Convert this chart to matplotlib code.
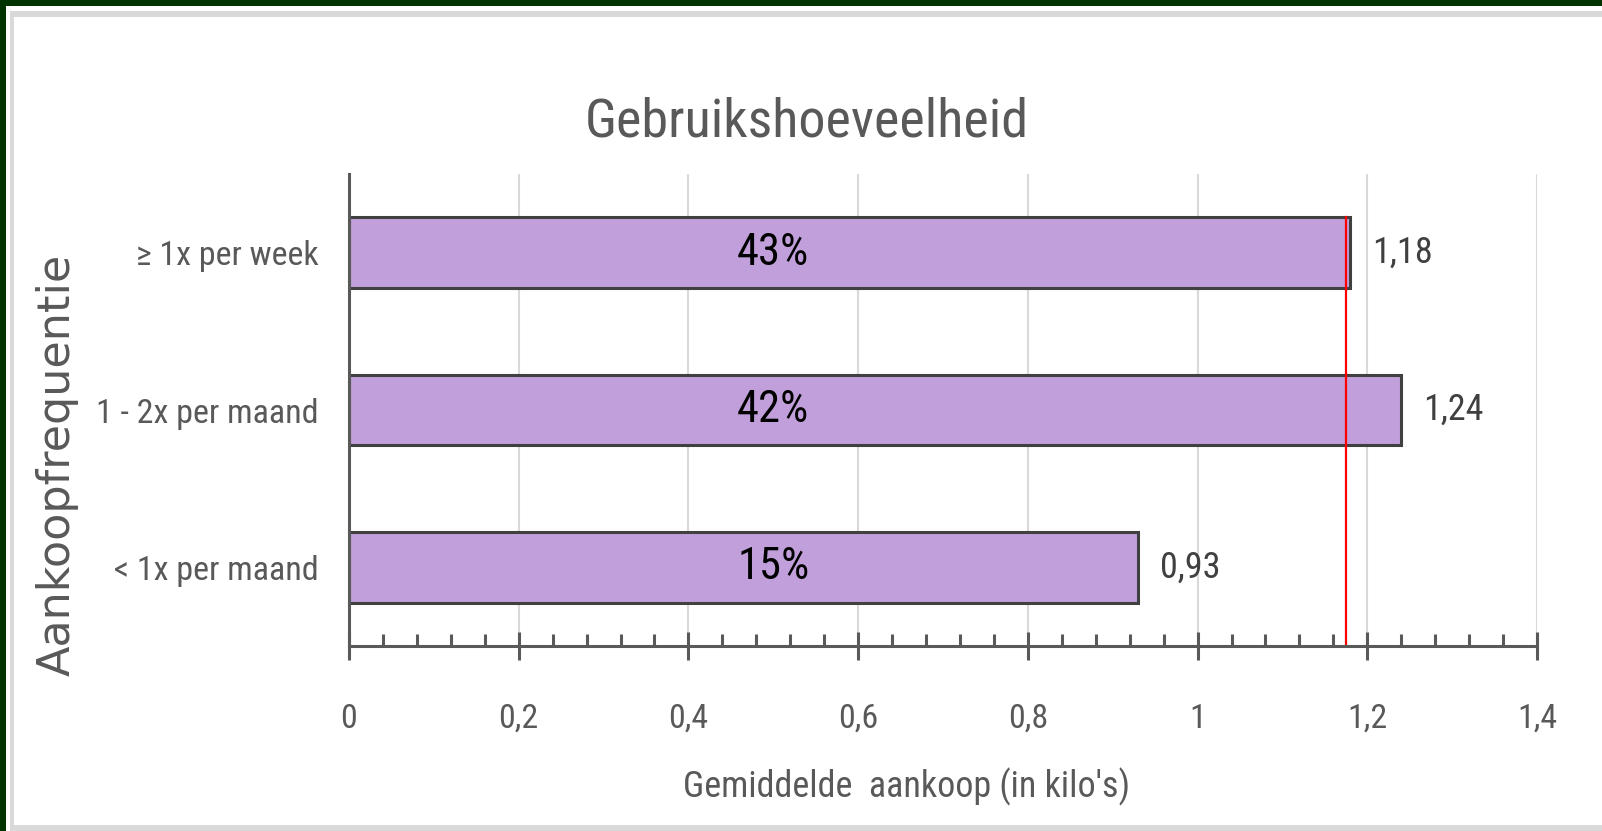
import matplotlib
matplotlib.use('Agg')
import matplotlib.pyplot as plt
from matplotlib import font_manager as fm
from matplotlib.patches import Rectangle
from matplotlib.ticker import MultipleLocator

# data
categories = ['≥ 1x per week', '1 - 2x per maand', '< 1x per maand']
values = [1.18, 1.24, 0.93]
value_labels = ['1,18', '1,24', '0,93']
shares = ['43%', '42%', '15%']
average = 1.175
xticks = [0, 0.2, 0.4, 0.6, 0.8, 1.0, 1.2, 1.4]
xtick_labels = ['0', '0,2', '0,4', '0,6', '0,8', '1', '1,2', '1,4']

# the original uses a narrow Calibri-like face; look for a condensed one
narrow = None
fonts = fm.fontManager.ttflist
for want in ['Liberation Sans Narrow', 'Roboto Condensed', 'Open Sans Condensed']:
    hits = [f for f in fonts if f.name == want and f.weight in (400, 'normal', 'regular')
            and f.style == 'normal']
    if hits:
        narrow = fm.FontProperties(fname=hits[0].fname)
        break
if narrow is None:
    hits = [f for f in fonts if ('Condensed' in f.name or 'Narrow' in f.name
                                 or f.stretch in ('condensed', 'semi-condensed'))
            and f.style == 'normal' and 'Bold' not in f.fname]
    if hits:
        narrow = fm.FontProperties(fname=hits[0].fname)
if narrow is None:
    narrow = fm.FontProperties(family='DejaVu Sans', stretch='condensed')


def nf(size):
    p = narrow.copy()
    p.set_size(size)
    return p


W, H = 1602, 831
fig = plt.figure(figsize=(W / 100, H / 100), dpi=100)
fig.patch.set_facecolor('white')


def px_rect(x, y, w, h, color):
    # rectangle given in pixel coords measured from the top-left corner
    fig.add_artist(Rectangle((x / W, 1 - (y + h) / H), w / W, h / H,
                             transform=fig.transFigure, color=color, lw=0))


# frame round the picture
px_rect(0, 0, 6, H, '#003300')
px_rect(0, 0, W, 6, '#003300')
px_rect(10, 11, 3.5, H - 11, '#d9d9d9')
px_rect(10, 11, W, 6, '#d9d9d9')
px_rect(10, 825, W, 6, '#d9d9d9')

ax = fig.add_axes([349 / W, 1 - 646 / H, 1188 / W, 472 / H])
ax.set_facecolor('none')

ypos = list(range(len(categories)))
bar_h = 0.45
ax.barh(ypos, values, height=bar_h, color='#c09fda', edgecolor='#404040',
        linewidth=2.2, zorder=3)

ax.set_xlim(0, 1.4)
ax.set_ylim(len(categories) - 0.5, -0.5)

# average line, from top of the first bar down to the axis
ax.plot([average, average], [-bar_h / 2, len(categories) - 0.5],
        color='#ff0000', lw=1.6, zorder=4, clip_on=False)

for y, v, vl, s in zip(ypos, values, value_labels, shares):
    ax.text(v + 0.026, y, vl, va='center', ha='left', fontproperties=nf(26),
            color='#404040', zorder=5)
    ax.text(0.5, y, s, va='center', ha='center', fontproperties=nf(32),
            color='black', zorder=5)

ax.set_xticks(xticks)
ax.set_xticklabels(xtick_labels, fontproperties=nf(24.5))
ax.xaxis.set_minor_locator(MultipleLocator(0.04))
ax.tick_params(axis='x', which='major', direction='inout', length=20,
               width=2.2, color='#595959', labelcolor='#595959', pad=31)
ax.tick_params(axis='x', which='minor', direction='in', length=8.5,
               width=2.2, color='#595959')
ax.set_yticks(ypos)
ax.set_yticklabels(categories, fontproperties=nf(24.5))
ax.tick_params(axis='y', length=0, labelcolor='#595959', pad=22)

ax.grid(axis='x', which='major', color='#d9d9d9', lw=1.5, zorder=0)
ax.set_axisbelow(True)

for side in ['top', 'right']:
    ax.spines[side].set_visible(False)
for side in ['left', 'bottom']:
    ax.spines[side].set_color('#595959')
    ax.spines[side].set_linewidth(2.2)
    ax.spines[side].set_zorder(6)

fig.text(807 / W, 1 - 122 / H, 'Gebruikshoeveelheid', ha='center',
         va='center', fontproperties=nf(39), color='#595959')
fig.text(907 / W, 1 - 787 / H, "Gemiddelde  aankoop (in kilo's)",
         ha='center', va='center', fontproperties=nf(26), color='#595959')
fig.text(57 / W, 1 - 465 / H, 'Aankoopfrequentie', rotation=90,
         ha='center', va='center', fontsize=32, color='#595959',
         family='DejaVu Sans')

fig.savefig('out.png', dpi=100)
